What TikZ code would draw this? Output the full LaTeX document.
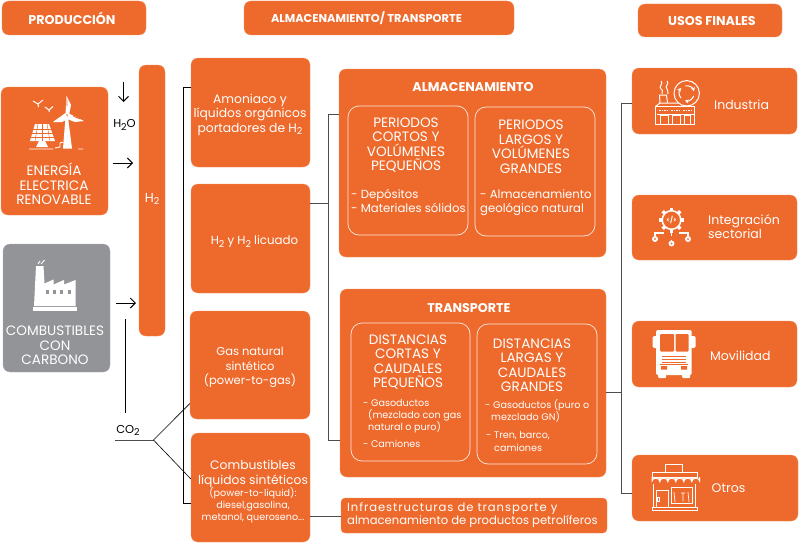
\documentclass[tikz,border=0pt]{standalone}
\usepackage{fontspec}
\usetikzlibrary{arrows.meta}
\setmainfont{Poppins}
\definecolor{naranja}{HTML}{EE6A2C}
\definecolor{gris}{HTML}{929497}
\newcommand{\subdos}{\raisebox{-0.4ex}{\fontsize{9.5}{9.5}\selectfont 2}}
\tikzset{
  caja/.style={fill=naranja,draw=naranja!75!white,line width=0.3pt,rounded corners=7pt,inner sep=0pt,text=white,align=center,font=\fontsize{11.5}{14.5}\selectfont},
  subcaja/.style={draw=white!85!naranja,line width=0.7pt,rounded corners=11pt,inner sep=0pt},
  texto/.style={text=white,align=center,inner sep=0pt,font=\fontsize{12.3}{14.5}\selectfont},
  mayus/.style={text=white,align=center,inner sep=0pt,font=\fontsize{13.6}{14.5}\selectfont},
  lista/.style={text=white,align=left,anchor=west,inner sep=0pt,font=\fontsize{11.7}{14}\selectfont},
  listita/.style={text=white,align=left,anchor=west,inner sep=0pt,font=\fontsize{9.6}{12}\selectfont},
  uso/.style={text=white,align=left,anchor=west,inner sep=0pt,font=\fontsize{12.5}{14}\selectfont},
  titulo/.style={text=white,inner sep=0pt,font=\fontsize{12.7}{13}\selectfont\bfseries},
  linea/.style={draw=black!70,line width=0.7pt},
  flecha/.style={-{Straight Barb[length=5pt,width=10pt]},line width=1pt,black},
  icono/.style={draw=white,line width=1pt,fill=none},
}
\begin{document}
\begin{tikzpicture}[x=1pt,y=-1pt]
  \useasboundingbox (0,0) rectangle (799,543);
  % Cabeceras
  \node[caja,minimum width=144,minimum height=34] (produccion) at (74,18) {};
  \node[caja,minimum width=270,minimum height=34] (almtrans) at (379,18) {};
  \node[caja,minimum width=144,minimum height=33] (usos) at (710,20.5) {};
  \node[titulo] (producciontxt) at (72,18) {PRODUCCIÓN};
  \node[titulo,font=\fontsize{11.4}{13}\selectfont\bfseries] (almtranstxt) at (366.5,18.5) {ALMACENAMIENTO/ TRANSPORTE};
  \node[titulo] (usostxt) at (712,21) {USOS FINALES};

  % Produccion
  \node[caja,minimum width=107,minimum height=128] (energia) at (54.5,151) {};
  \node[mayus] (energiatxt) at (54,184) {ENERGÍA\\ELECTRICA\\RENOVABLE};
  \node[caja,fill=gris,draw=gris!75!white,minimum width=107,minimum height=128] (comb) at (56.5,308) {};
  \node[mayus] (combtxt) at (55,345.5) {COMBUSTIBLES\\CON\\CARBONO};
  \node[caja,minimum width=26,minimum height=271] (hdos) at (152,200.5) {};
  \node[texto,font=\fontsize{13}{14}\selectfont] (hdostxt) at (152,199) {H\subdos};
  \node[inner sep=0pt,font=\fontsize{11.5}{12}\selectfont] (aguatxt) at (124.5,125) {H\subdos O};
  \node[inner sep=0pt,font=\fontsize{11.5}{12}\selectfont] (cotxt) at (128,430.5) {CO\subdos};

  % Columna central
  \node[caja,minimum width=119,minimum height=109] (amoniaco) at (250.5,112.5) {};
  \node[texto] (amoniacotxt) at (250,114.5) {Amoniaco y\\líquidos orgánicos\\portadores de H\subdos};
  \node[caja,minimum width=119,minimum height=109] (licuado) at (250.5,238.5) {};
  \node[texto,font=\fontsize{11.8}{14.5}\selectfont] (licuadotxt) at (254.5,241.5) {H\subdos{} y H\subdos{} licuado};
  \node[caja,minimum width=120,minimum height=108] (gas) at (250,365) {};
  \node[texto,font=\fontsize{11.5}{14.5}\selectfont] (gastxt) at (250,367.5) {Gas natural\\sintético\\(power-to-gas)};
  \node[caja,minimum width=119,minimum height=109] (liquidos) at (250.5,487.5) {};
  \node[texto] (liquidostxt) at (253,474) {Combustibles\\líquidos sintéticos};
  \node[texto,font=\fontsize{9.6}{12}\selectfont] (liquidostxtb) at (253,505) {(power-to-liquid):\\diesel,gasolina,\\metanol, queroseno...};
  \node[caja,rounded corners=4pt,minimum width=266,minimum height=35] (infra) at (474,515.5) {};
  \node[lista,font=\fontsize{11.6}{13}\selectfont] (infratxt) at (347,515.5) {{\addfontfeature{LetterSpace=8}Infraestructuras de transporte y}\\almacenamiento de productos petrolíferos};

  % Almacenamiento
  \node[caja,minimum width=267,minimum height=188] (almacen) at (472.5,163) {};
  \node[titulo] (almacentxt) at (473,87) {ALMACENAMIENTO};
  \node[subcaja,minimum width=120,minimum height=129] (cortos) at (408,170.5) {};
  \node[subcaja,minimum width=120,minimum height=129] (largos) at (535,171.5) {};
  \node[mayus] (cortostxt) at (406,145) {PERIODOS\\CORTOS Y\\VOLÚMENES\\PEQUEÑOS};
  \node[mayus] (largostxt) at (531,146.5) {PERIODOS\\LARGOS Y\\VOLÚMENES\\GRANDES};
  \node[lista] (cortoslst) at (351,201) {- Depósitos\\- Materiales sólidos};
  \node[lista] (largoslst) at (480,203) {- Almacenamiento\\geológico natural};

  % Transporte
  \node[caja,minimum width=266,minimum height=188] (transporte) at (473,383) {};
  \node[titulo] (transportetxt) at (469,308) {TRANSPORTE};
  \node[subcaja,minimum width=119,minimum height=138] (cercanas) at (410.5,392) {};
  \node[subcaja,minimum width=120,minimum height=140] (lejanas) at (537,394) {};
  \node[mayus] (cercanastxt) at (408,362) {DISTANCIAS\\CORTAS Y\\CAUDALES\\PEQUEÑOS};
  \node[mayus] (lejanastxt) at (532,365) {DISTANCIAS\\LARGAS Y\\CAUDALES\\GRANDES};
  \node[listita] (cercanasa) at (363,403) {- Gasoductos};
  \node[listita] (cercanasb) at (368,421) {(mezclado con gas\\natural o puro)};
  \node[listita] (cercanasc) at (363,444) {- Camiones};
  \node[listita] (lejanasa) at (485,405) {- Gasoductos (puro o};
  \node[listita] (lejanasb) at (491,417) {mezclado GN)};
  \node[listita] (lejanasc) at (486,436) {- Tren, barco,};
  \node[listita] (lejanasd) at (494,448) {camiones};

  % Usos finales
  \node[caja,minimum width=165,minimum height=66] (industria) at (714.5,101) {};
  \node[caja,minimum width=165,minimum height=65] (integra) at (714.5,227.5) {};
  \node[caja,minimum width=165,minimum height=66] (movil) at (714.5,354) {};
  \node[caja,minimum width=166,minimum height=66] (otros) at (715,488) {};
  \node[uso] (industriatxt) at (714,104.5) {Industria};
  \node[uso] (integratxt) at (708,226.5) {Integración\\sectorial};
  \node[uso] (moviltxt) at (710,355.5) {Movilidad};
  \node[uso] (otrostxt) at (711.5,488.5) {Otros};

  % Conectores
  \coordinate (izqa) at (183.5,87);
  \coordinate (izqb) at (183.5,503);
  \draw[linea,black] (amoniaco.west |- izqa) -- (izqa) -- (izqb) -- (liquidos.west |- izqb);
  \coordinate (meda) at (328,114);
  \coordinate (medb) at (328,440);
  \draw[linea] (almacen.west |- meda) -- (meda) -- (medb) -- (transporte.west |- medb);
  \draw[linea] (licuado.east |- 0,203.5) -- (meda |- 0,203.5);
  \coordinate (dera) at (621,103);
  \coordinate (derb) at (621,493);
  \draw[linea] (industria.west |- dera) -- (dera) -- (derb) -- (otros.west |- derb);
  \draw[linea] (transporte.east |- 0,392) -- (dera |- 0,392);
  \draw[linea] (liquidos.east |- 0,516) -- (infra.west |- 0,516);

  % CO2
  \coordinate (coa) at (115,440);
  \coordinate (cob) at (153.5,440);
  \coordinate (coc) at (125.5,319);
  \coordinate (cod) at (125.5,413);
  \draw[linea] (coa) -- (cob);
  \draw[linea,black,line width=0.6pt] (gas.west |- 0,403.5) -- (cob) -- (liquidos.west |- 0,479);
  \draw[linea,black] (coc) -- (cod);

  % Flechas
  \coordinate (fa) at (123.5,82);
  \coordinate (fb) at (123.5,102);
  \coordinate (fc) at (113,163);
  \coordinate (fd) at (133,163);
  \coordinate (fe) at (116,303);
  \coordinate (ff) at (136,303);
  \draw[flecha] (fa) -- (fb);
  \draw[flecha] (fc) -- (fd);
  \draw[flecha] (fe) -- (ff);

  % Icono renovable
  \draw[white,line width=1pt] (33,101) -- (38,104) -- (43,100) (38,104) -- (38.5,107);
  \draw[white,line width=1pt] (45,107) -- (49,110) -- (53,106.5) (49,110) -- (49,112);
  \fill[white] (65.5,117) -- (68,117) -- (72,148.5) -- (63,148.5) -- cycle;
  \fill[white] (65.5,114) -- (66.5,96) -- (71,105) -- (69,115) -- cycle;
  \fill[white] (65.5,113) -- (53,122) -- (62,122) -- (68,119) -- cycle;
  \fill[white] (68,113) -- (84,121) -- (75,122) -- (67,119) -- cycle;
  \fill[white] (35,124) -- (49,124) -- (55,141) -- (30,141) -- cycle;
  \foreach \y in {129,133,137} \draw[naranja,line width=0.5pt] (30,\y) -- (55,\y);
  \foreach \x/\z in {38/35,42.5/42.5,47/50} \draw[naranja,line width=0.5pt] (\x,124) -- (\z,141);
  \fill[white] (39,141) -- (45,141) -- (48,147) -- (36,147) -- cycle;
  \draw[white,line width=0.9pt] (29,149) -- (53,149) (55,148) -- (60,147) -- (60,143) -- (63,142) (78,149) -- (83,149);
  \draw[naranja,line width=0.7pt] (67,100) -- (67,106) (73,116) -- (80,119);

  % Icono fabrica
  \fill[white] (36,266) -- (43.5,266) -- (44.5,283.5) -- (53.5,279.5) -- (53.5,284.5) -- (64,280) -- (64,284.5) -- (75.5,280) -- (75.5,306) -- (34,306) -- cycle;
  \fill[white] (33,307) rectangle (77,311);
  \foreach \x in {47.5,54,61,69} \fill[gris] (\x-1.5,290) rectangle (\x+1.5,293.5);
  \draw[white,line width=0.9pt] (38,264) -- (40,261) (41,264) -- (44.5,260);

  % Icono industria
  \draw[icono] (655.5,124) rectangle (694,106.5);
  \draw[icono] (655.5,106.5) -- (660,103) -- (685,103) (660,103) -- (659.5,95) -- (666.5,95) -- (667.5,103);
  \draw[icono] (657,114.5) -- (694,114.5);
  \draw[icono] (660,124) -- (660,115) -- (668,115) -- (668,124) (672,124) -- (672,115) -- (680,115) -- (680,124) (684,124) -- (684,115) -- (690,115) -- (690,124);
  \foreach \x in {660,672,684} \draw[white,line width=1.5pt,dash pattern=on 1.5pt off 1pt] (\x-1,110.5) -- (\x+7,110.5);
  \draw[icono] (661,81) .. controls (664,84) and (658,86) .. (661,89) .. controls (664,91) and (661,92) .. (662,94);
  \draw[icono] (667,81) .. controls (670,84) and (664,86) .. (667,89) .. controls (669,91) and (667,92) .. (668,94);
  \draw[icono,fill=naranja] (686.7,93.3) circle (12.7);
  \foreach \a in {20,140,260} \draw[icono,-{Stealth[length=4pt,width=4pt]}] (686.7,93.3) ++(\a:7.5) arc (\a:\a+85:7.5);

  % Icono integracion
  \foreach \a in {0,45,...,315} \draw[white,line width=3.5pt] (671.5,220) ++(\a:9) -- ++(\a:3.5);
  \draw[icono,line width=1.5pt,fill=naranja] (671.5,220) circle (9.3);
  \node[text=white,inner sep=0pt,font=\fontsize{6.5}{6}\selectfont\bfseries] (codigo) at (671.5,220) {</>};
  \draw[icono,line width=1.2pt] (671.5,232) -- (671.5,236) (655,236) -- (655,233) -- (664,233) (688,236) -- (688,233) -- (679,233) (671.5,240) -- (671.5,242);
  \foreach \x/\y in {655/239,671.5/243.5,688/239} \draw[icono,line width=1.8pt] (\x,\y) circle (2);

  % Icono autobus
  \fill[white,rounded corners=2pt] (656,330) rectangle (691.7,375);
  \fill[white,rounded corners=1.5pt] (652.5,336) rectangle (657,348) (690,336) rectangle (695.5,348);
  \fill[white,rounded corners=1pt] (658,372) rectangle (666,378) (682,372) rectangle (690,378);
  \fill[naranja,rounded corners=1pt] (660,334) rectangle (674,351.5) (675.5,334) rectangle (688.5,351.5);
  \foreach \y in {356,359,362} \draw[naranja,line width=0.6pt] (662,\y) -- (686,\y);
  \draw[naranja,line width=0.6pt] (660,364.5) -- (688,364.5);
  \fill[naranja] (661,366) rectangle (667,369.5) (681,366) rectangle (687,369.5);

  % Icono tienda
  \draw[icono] (665.5,464.5) rectangle (682.5,472.5);
  \draw[icono] (652,472.5) rectangle (697,477);
  \foreach \x in {652,660,668,676,684,692} \draw[icono] (\x,477) -- (\x,481) arc (180:360:3.8 and 2.8) -- (\x+7.6,477);
  \draw[icono] (653.5,484) -- (653.5,507) (695,484) -- (695,507);
  \draw[icono] (652,507) rectangle (697,510);
  \draw[icono] (656,507) -- (656,490) -- (668,490) -- (668,507) (657,497) rectangle (659,501);
  \draw[icono] (671,503) -- (671,487) -- (692,487) -- (692,503) -- cycle;
  \draw[icono,line width=0.7pt] (674,492) -- (675,502) (681,493) -- (685,493) (683,493) -- (683,501) (688,492) -- (689,502);
\end{tikzpicture}
\end{document}
